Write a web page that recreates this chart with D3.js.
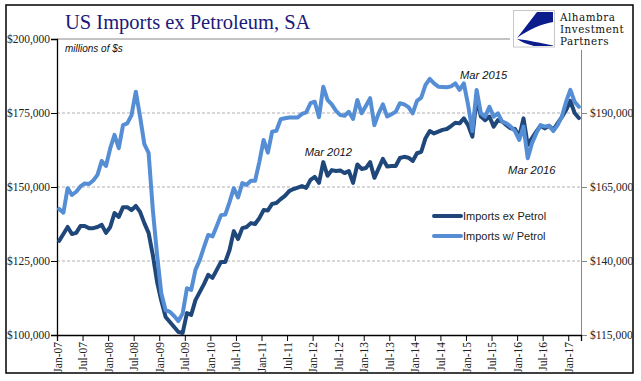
<!DOCTYPE html>
<html><head><meta charset="utf-8">
<script src="https://d3js.org/d3.v7.min.js"></script>
<style>body{margin:0;background:#fff}svg{display:block}</style>
</head><body>
<script>
const tickLabels = ["Jan-07","Jul-07","Jan-08","Jul-08","Jan-09","Jul-09","Jan-10","Jul-10","Jan-11","Jul-11","Jan-12","Jul-12","Jan-13","Jul-13","Jan-14","Jul-14","Jan-15","Jul-15","Jan-16","Jul-16","Jan-17"];
const leftTicks = [100000,125000,150000,175000,200000];
const rightTicks = [115000,140000,165000,190000];
const seriesNames = ["Imports ex Petrol","Imports w/ Petrol"];
// monthly, Jan-07 .. Mar-17
const exPetrol = [
131800,134100,136500,134100,134500,136800,136800,136100,136100,136500,
137200,134500,136500,141200,139900,143200,143200,142200,143600,141600,
137800,134500,127000,117900,111500,106100,104400,102700,101000,100700,
107400,106800,111800,114500,117200,120300,119300,122000,124700,124700,
128700,135100,132400,136100,136500,137800,137500,139500,142200,142100,
144300,144600,145900,147000,148600,149300,149800,150300,149700,152400,
153400,151400,158400,153800,155700,155400,155600,154700,155400,151400,
157600,156100,156400,158400,153100,156300,159500,156900,157100,157100,
159800,160200,159900,158800,161400,161900,166500,168900,168100,168700,
169300,169600,170600,171700,171500,173200,170900,167000,180000,173800,
172600,173800,170400,172600,172100,170900,169800,169600,167000,173200,
164200,166500,168700,170700,169800,170700,169300,171500,173600,176000,
179100,175000,173300];
const wPetrol = [
157600,156300,164600,162300,163400,165200,166200,166000,167200,169100,
173800,172100,178100,182600,178100,185900,186500,189300,197200,188800,
179500,176500,157200,142000,128900,123400,122800,121400,119700,122300,
130800,130200,137000,140300,144700,148800,148300,151800,155500,155700,
159900,164600,161500,166300,165700,167100,167100,173500,180900,176600,
183700,184000,187900,188200,188500,188500,188500,189700,190200,193300,
193800,188600,198900,194400,192900,190700,189300,189100,190400,188000,
194400,189900,192400,195000,185900,189900,192900,188800,189600,190400,
193300,192900,192000,189900,194100,195200,199500,201500,200000,198900,
198800,198700,199000,200000,197800,200000,192700,183900,197800,189900,
188800,192100,188800,189900,187100,186500,185400,183900,180900,185400,
174700,179800,183100,185900,185400,185700,183900,185900,188800,193800,
197800,193800,192100];
const annotations = [
  {text:"Mar 2012", i:62},
  {text:"Mar 2015", i:98},
  {text:"Mar 2016", i:110}
];

const W=641,H=381;
const L=57,R=581,T=39,B=335;
const DARK="#1f477a", LIGHT="#558ed5";
const svg=d3.select("body").append("svg").attr("width",W).attr("height",H);

const n=exPetrol.length;
const x=d3.scaleLinear().domain([0,n]).range([L,R]);
const yL=d3.scaleLinear().domain([100000,200000]).range([B,T]);
const yR=d3.scaleLinear().domain([115000,215000]).range([B,T]);

// outer border
svg.append("rect").attr("x",6).attr("y",5).attr("width",627).attr("height",368)
  .attr("fill","none").attr("stroke","#000").attr("stroke-width",1.5);

// gridlines
svg.append("g").selectAll("line").data(leftTicks.filter(v=>v>100000&&v<200000)).join("line")
  .attr("x1",L).attr("x2",R).attr("y1",d=>yL(d)).attr("y2",d=>yL(d))
  .attr("stroke","#b0b0b0").attr("stroke-dasharray","3,2").attr("stroke-width",1);
// top border
svg.append("line").attr("x1",L).attr("x2",R).attr("y1",T).attr("y2",T).attr("stroke","#888");
// right axis
const gR=svg.append("g").attr("transform",`translate(${R},0)`)
  .call(d3.axisRight(yR).tickValues(rightTicks).tickSize(6).tickFormat(d=>"$"+d3.format(",")(d)));
gR.select(".domain").attr("stroke","#888");
gR.selectAll(".tick line").attr("stroke","#888");
gR.selectAll("text").attr("font-family","Liberation Serif").attr("font-size",11.5).attr("fill","#222").attr("x",9);

// left axis
const gL=svg.append("g").attr("transform",`translate(${L},0)`)
  .call(d3.axisLeft(yL).tickValues(leftTicks).tickSize(6).tickFormat(d=>"$"+d3.format(",")(d)));
gL.select(".domain").attr("stroke","#000").attr("stroke-width",1.3);
gL.selectAll(".tick line").attr("stroke","#000");
gL.selectAll("text").attr("font-family","Liberation Serif").attr("font-size",11.5).attr("fill","#222").attr("x",-7);

// bottom axis
const gB=svg.append("g").attr("transform",`translate(0,${B})`)
  .call(d3.axisBottom(x).tickValues(d3.range(0,n,6)).tickSize(6).tickFormat((d,k)=>tickLabels[k]));
gB.select(".domain").attr("stroke","#000").attr("stroke-width",1.3);
gB.selectAll(".tick line").attr("stroke","#000");
gB.selectAll("text").attr("font-family","Liberation Serif").attr("font-size",11.5).attr("fill","#222")
  .attr("transform","rotate(-90)").attr("text-anchor","end").attr("x",-7).attr("y",0).attr("dy","0.35em");

// lines
const lineL=d3.line().x((d,i)=>x(i+0.5)).y(d=>yL(d));
const lineR=d3.line().x((d,i)=>x(i+0.5)).y(d=>yR(d));
svg.append("path").datum(exPetrol).attr("d",lineL).attr("fill","none").attr("stroke",DARK)
  .attr("stroke-width",4).attr("stroke-linejoin","round").attr("stroke-linecap","round");
svg.append("path").datum(wPetrol).attr("d",lineR).attr("fill","none").attr("stroke",LIGHT)
  .attr("stroke-width",4).attr("stroke-linejoin","round").attr("stroke-linecap","round");

// annotations
const annPos=[{dx:5,y:yL(exPetrol[62])-6},{dx:7,y:yR(wPetrol[98])-11},{dx:4,y:yR(wPetrol[110])+16}];
annotations.forEach((a,k)=>{
  svg.append("text").attr("x",x(a.i+0.5)+annPos[k].dx).attr("y",annPos[k].y)
   .attr("text-anchor","middle").attr("font-family","Liberation Sans").attr("font-style","italic")
   .attr("font-size",11.2).attr("fill","#111").text(a.text);
});

// title
svg.append("text").attr("x",65).attr("y",29).attr("font-family","Liberation Serif")
  .attr("font-size",20.5).attr("fill","#1a1a7a").text("US Imports ex Petroleum, SA");
svg.append("text").attr("x",65).attr("y",52).attr("font-family","Liberation Sans").attr("font-style","italic")
  .attr("font-size",10).attr("fill","#111").text("millions of $s");

// legend
const lg=svg.append("g");
[DARK,LIGHT].forEach((c,k)=>{
  const yy=216+k*20;
  lg.append("line").attr("x1",434).attr("x2",461).attr("y1",yy).attr("y2",yy).attr("stroke",c)
    .attr("stroke-width",4).attr("stroke-linecap","round");
  lg.append("text").attr("x",463).attr("y",yy).attr("dy","0.35em").attr("font-family","Liberation Sans")
    .attr("font-size",11).attr("fill","#222").text(seriesNames[k]);
});

// logo
const lgo=svg.append("g");
lgo.append("rect").attr("x",510).attr("y",6.5).attr("width",122).attr("height",43.5).attr("fill","#fff");
lgo.append("rect").attr("x",513.5).attr("y",10.5).attr("width",41).attr("height",36.5).attr("fill","#fff").attr("stroke","#c8c8c8");
lgo.append("path").attr("d","M537 12 L553 12 L553 22 C541 24 528 30 517 38 Z").attr("fill","#0b1d8c");
lgo.append("path").attr("d","M517 39 C527 40 540 43 553 45.5 L553 46 L534 46 C527 44 521 42 517 39 Z").attr("fill","#0b1d8c");
["Alhambra","Investment","Partners"].forEach((t,k)=>{
  lgo.append("text").attr("x",560).attr("y",20.5+k*12.3).attr("font-family","DejaVu Serif")
    .attr("font-size",10.4).attr("letter-spacing",0.5).attr("fill","#111").text(t);
});
</script>
</body></html>
